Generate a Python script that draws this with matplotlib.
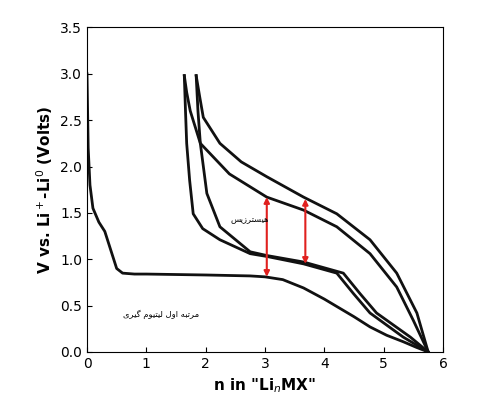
import matplotlib.pyplot as plt

first_x = [0.0, 0.02, 0.05, 0.1, 0.2, 0.3, 0.4, 0.5, 0.6, 0.8, 1.0, 2.0, 2.75, 3.0, 3.3, 3.65, 4.0, 4.21, 4.5, 4.77, 5.05, 5.33, 5.55, 5.75]
first_y = [3.0, 2.2, 1.8, 1.55, 1.4, 1.3, 1.1, 0.9, 0.85, 0.84, 0.84, 0.83, 0.82, 0.81, 0.78, 0.69, 0.57, 0.49, 0.38, 0.27, 0.18, 0.11, 0.05, 0.0]

dis1_x = [1.64, 1.66, 1.68, 1.73, 1.79, 1.95, 2.24, 2.75, 3.03, 3.65, 4.21, 4.49, 4.77, 5.33, 5.75]
dis1_y = [2.98, 2.6, 2.25, 1.85, 1.49, 1.33, 1.21, 1.06, 1.03, 0.95, 0.85, 0.63, 0.42, 0.16, 0.0]
dis2_x = [1.84, 1.87, 1.91, 2.02, 2.24, 2.75, 3.03, 3.65, 4.32, 4.6, 4.88, 5.45, 5.75]
dis2_y = [2.98, 2.6, 2.25, 1.71, 1.35, 1.08, 1.04, 0.97, 0.85, 0.63, 0.42, 0.16, 0.0]
ch1_x = [1.64, 1.68, 1.74, 1.91, 2.4, 3.03, 3.65, 4.21, 4.77, 5.22, 5.5, 5.75]
ch1_y = [2.98, 2.8, 2.6, 2.25, 1.92, 1.67, 1.53, 1.35, 1.06, 0.7, 0.34, 0.0]
ch2_x = [1.84, 1.9, 1.96, 2.24, 2.6, 3.03, 3.65, 4.21, 4.77, 5.22, 5.56, 5.75]
ch2_y = [2.98, 2.75, 2.53, 2.25, 2.05, 1.89, 1.67, 1.49, 1.21, 0.85, 0.42, 0.0]

arrow_x = [3.03, 3.68]
arrow_lo = [0.81, 0.95]
arrow_hi = [1.67, 1.65]

def shaped(s):
    return s[::-1]

label_hys = shaped('\uFEEB\uFBFF\uFEB4\uFE98\uFEAE\uFEAF\uFBFE\uFEB2')
label_first = shaped('\uFEE3\uFEAE\uFE97\uFE92\uFEEA \uFE8D\uFEED\uFEDD \uFEDF\uFBFF\uFE98\uFBFF\uFEEE\uFEE1 \uFB94\uFBFF\uFEAE\uFBFC')

fig = plt.figure(figsize=(5.0, 4.16), dpi=100)
ax = fig.add_axes([0.174, 0.154, 0.712, 0.78])
for xs, ys in [(first_x, first_y), (dis1_x, dis1_y), (dis2_x, dis2_y), (ch1_x, ch1_y), (ch2_x, ch2_y)]:
    ax.plot(xs, ys, color='#111111', lw=2)
for x, lo, hi in zip(arrow_x, arrow_lo, arrow_hi):
    ax.annotate('', xy=(x, hi), xytext=(x, lo), arrowprops=dict(arrowstyle='<|-|>', color='#e0201e', lw=1.5, mutation_scale=8, shrinkA=0, shrinkB=0))
ax.text(2.75, 1.43, label_hys, family=['DejaVu Sans'], fontsize=6, ha='center', va='center')
ax.text(1.25, 0.4, label_first, family=['DejaVu Sans'], fontsize=6, ha='center', va='center')
ax.set_xlim(0, 6)
ax.set_ylim(0, 3.5)
ax.set_xticks(range(0, 7))
ax.set_yticks([0, 0.5, 1, 1.5, 2, 2.5, 3, 3.5])
ax.set_yticklabels(['0.0', '0.5', '1.0', '1.5', '2.0', '2.5', '3.0', '3.5'])
ax.tick_params(direction='in', labelsize=10)
ax.set_xlabel('n in "Li$_n$MX"', fontsize=11, fontweight='bold')
ax.set_ylabel('V vs. Li$^+$-Li$^0$ (Volts)', fontsize=11, fontweight='bold')
fig.savefig('out.png', dpi=100)
